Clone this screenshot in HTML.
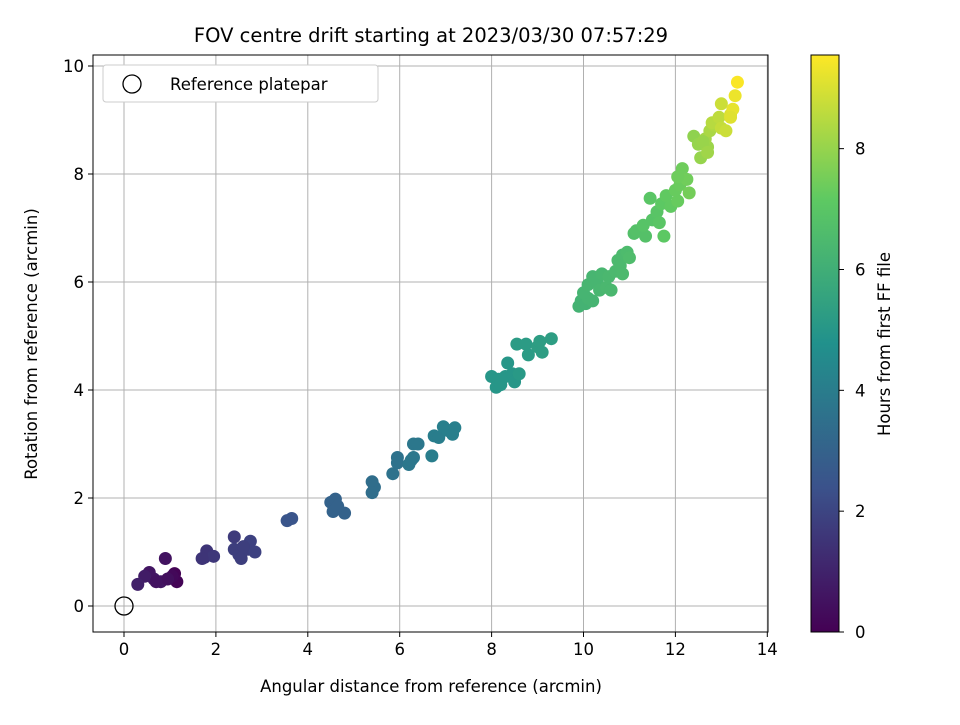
<!DOCTYPE html>
<html><head><meta charset="utf-8"><style>
body{margin:0;background:#fff;font-family:"Liberation Sans","DejaVu Sans",sans-serif}
svg text{font-family:"DejaVu Sans","Liberation Sans",sans-serif;fill:#000}
</style></head><body>
<svg id="chart" width="960" height="720" xmlns="http://www.w3.org/2000/svg">
<defs><linearGradient id="vir" x1="0" y1="1" x2="0" y2="0">
<stop offset="0" stop-color="#440154"/><stop offset="0.25" stop-color="#3b528b"/><stop offset="0.5" stop-color="#21918c"/><stop offset="0.75" stop-color="#5ec962"/><stop offset="1" stop-color="#fde725"/></linearGradient></defs>
<text x="431" y="42" font-size="19.5" text-anchor="middle">FOV centre drift starting at 2023/03/30 07:57:29</text>
<g id="grid"></g><g id="pts"></g><g id="axes"></g>
<text x="431" y="692" font-size="16.5" text-anchor="middle">Angular distance from reference (arcmin)</text>
<text transform="translate(37,344) rotate(-90)" font-size="16.5" text-anchor="middle">Rotation from reference (arcmin)</text>
<g>
<rect x="103" y="65" width="275" height="37" rx="3" fill="#fff" stroke="#ccc"/>
<circle cx="132" cy="84" r="9" fill="none" stroke="#000" stroke-width="1.3"/>
<text x="170" y="90" font-size="16.5">Reference platepar</text></g>
<rect x="811" y="55" width="28" height="577" fill="url(#vir)" stroke="#000" stroke-width="1"/>
<g id="cb"></g>
<text transform="translate(890,344) rotate(-90)" font-size="16.5" text-anchor="middle">Hours from first FF file</text>
</svg>
<script>
const xTicks=[0,2,4,6,8,10,12,14];
const yTicks=[0,2,4,6,8,10];
const cbTicks=[0,2,4,6,8];
const xs=[1.1,1.15,1.05,0.9,0.8,0.65,0.55,0.45,0.3,0.95,0.7,1.75,1.8,1.95,1.7,2.4,2.4,2.5,2.55,2.7,2.75,2.85,2.6,3.55,3.65,4.5,4.6,4.55,4.8,4.65,5.4,5.45,5.4,5.85,5.95,5.95,6.2,6.3,6.4,6.3,6.25,6.7,6.75,6.85,6.95,7.05,7.2,7.15,8.0,8.15,8.1,8.2,8.3,8.35,8.45,8.5,8.6,8.55,8.75,8.8,9.0,9.05,9.1,9.3,9.9,9.95,10.05,10.1,10.2,10.0,10.1,10.2,10.3,10.4,10.35,10.5,10.6,10.55,10.7,10.75,10.85,10.95,10.8,11.0,10.85,11.1,11.15,11.35,11.3,11.5,11.6,11.45,11.65,11.75,11.7,11.8,11.9,12.05,12.0,12.1,12.15,12.25,12.3,12.05,12.4,12.5,12.55,12.7,12.65,12.75,12.85,12.8,12.95,13.0,13.0,13.1,13.2,13.25,13.3,13.35,13.2,12.6,12.7];
const ys=[0.6,0.45,0.55,0.88,0.45,0.5,0.62,0.55,0.4,0.5,0.45,0.9,1.02,0.92,0.88,1.28,1.05,0.95,0.88,1.05,1.2,1.0,1.1,1.58,1.62,1.92,1.98,1.75,1.72,1.85,2.3,2.2,2.1,2.45,2.75,2.65,2.62,3.0,3.0,2.75,2.7,2.78,3.15,3.12,3.32,3.25,3.3,3.18,4.25,4.2,4.05,4.1,4.25,4.5,4.3,4.15,4.3,4.85,4.85,4.65,4.8,4.9,4.7,4.95,5.55,5.65,5.6,5.7,5.65,5.8,5.95,6.1,6.0,6.15,5.85,5.9,5.85,6.1,6.2,6.4,6.5,6.55,6.3,6.45,6.15,6.9,6.95,6.85,7.05,7.15,7.3,7.55,7.1,6.85,7.45,7.6,7.4,7.5,7.7,7.8,8.1,7.9,7.65,7.95,8.7,8.55,8.3,8.5,8.65,8.8,8.9,8.95,9.05,9.3,8.85,8.8,9.1,9.2,9.45,9.7,9.05,8.6,8.4];
const hs=[0.05,0.1,0.2,0.5,0.6,0.7,0.6,0.8,0.9,0.4,0.5,1.5,1.5,1.6,1.5,1.7,1.8,1.8,1.8,1.8,1.9,1.9,1.8,2.5,2.5,3.0,3.0,3.0,3.0,3.0,3.4,3.4,3.4,3.6,3.6,3.6,3.8,3.8,3.8,3.8,3.8,4.0,4.0,4.0,4.1,4.1,4.1,4.1,5.0,5.0,5.0,5.0,5.0,5.0,5.0,5.0,5.1,5.2,5.2,5.2,5.3,5.3,5.3,5.3,6.2,6.2,6.2,6.25,6.25,6.25,6.3,6.3,6.3,6.35,6.35,6.4,6.4,6.4,6.45,6.5,6.5,6.55,6.5,6.6,6.5,6.75,6.8,6.8,6.9,6.9,6.95,7.0,7.0,7.1,7.1,7.2,7.2,7.3,7.3,7.35,7.4,7.45,7.5,7.4,7.9,8.0,8.0,8.1,8.2,8.3,8.4,8.5,8.6,8.8,8.7,8.8,9.0,9.2,9.3,9.5,9.1,8.05,8.15];
const X0=93,X1=768,Y0=55,Y1=632,CBMAX=9.55;
const sx=v=>124+v*45.95, sy=v=>606-v*54.0, sc=v=>632-v/CBMAX*577;
const NS="http://www.w3.org/2000/svg";
function mk(tag,a,parent){const e=document.createElementNS(NS,tag);for(const k in a)e.setAttribute(k,a[k]);parent.appendChild(e);return e;}
const stops=[[0,[68,1,84]],[0.25,[59,82,139]],[0.5,[33,145,140]],[0.75,[94,201,98]],[1,[253,231,37]]];
function vir(t){t=Math.max(0,Math.min(1,t));for(let i=1;i<stops.length;i++){if(t<=stops[i][0]){const a=stops[i-1],b=stops[i],f=(t-a[0])/(b[0]-a[0]);return 'rgb('+a[1].map((c,j)=>Math.round(c+(b[1][j]-c)*f)).join(',')+')';}}return 'rgb(253,231,37)';}
const g=document.getElementById('grid'),ax=document.getElementById('axes'),pts=document.getElementById('pts'),cb=document.getElementById('cb');
xTicks.forEach(v=>{const x=sx(v);
const l=mk('line',{x1:x,x2:x,y1:Y0,y2:Y1,stroke:'#b0b0b0','stroke-width':1},g);


mk('line',{x1:x,x2:x,y1:Y1,y2:Y1+5,stroke:'#000'},ax);
const t=mk('text',{x:x,y:Y1+23,'font-size':16.5,'text-anchor':'middle'},ax);t.textContent=v;

});
yTicks.forEach(v=>{const y=sy(v);
const l=mk('line',{x1:X0,x2:X1,y1:y,y2:y,stroke:'#b0b0b0','stroke-width':1},g);


mk('line',{x1:X0-5,x2:X0,y1:y,y2:y,stroke:'#000'},ax);
const t=mk('text',{x:X0-9,y:y+6,'font-size':16.5,'text-anchor':'end'},ax);t.textContent=v;

});
const r=mk('rect',{x:X0,y:Y0,width:X1-X0,height:Y1-Y0,fill:'none',stroke:'#000','stroke-width':1},ax);


xs.forEach((v,i)=>{const c=mk('circle',{cx:sx(v),cy:sy(ys[i]),r:6.5,fill:vir(hs[i]/CBMAX)},pts);

});
const ref=mk('circle',{cx:sx(0),cy:sy(0),r:9,fill:'none',stroke:'#000','stroke-width':1.3},pts);


cbTicks.forEach(v=>{const y=sc(v);
mk('line',{x1:839,x2:844,y1:y,y2:y,stroke:'#000'},cb);
const t=mk('text',{x:855,y:y+6,'font-size':16.5},cb);t.textContent=v;

});
</script>
</body></html>
